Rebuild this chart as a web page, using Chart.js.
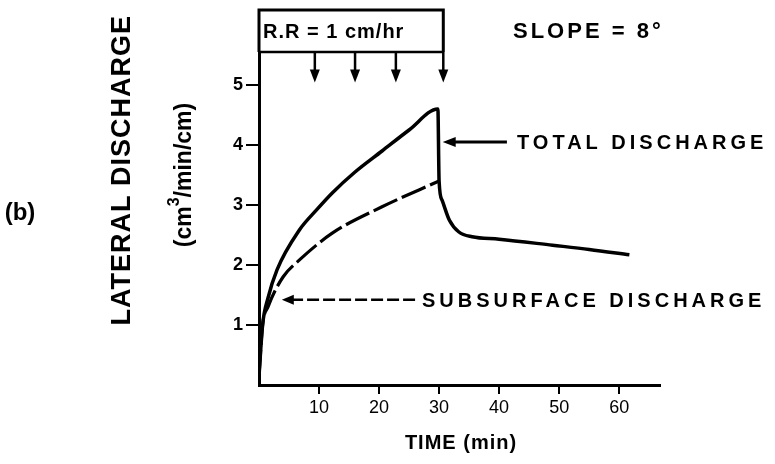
<!DOCTYPE html>
<html>
<head>
<meta charset="utf-8">
<script src="https://cdn.jsdelivr.net/npm/chart.js@4.4.1/dist/chart.umd.min.js"></script>
<style>
  html, body { margin: 0; padding: 0; background: #fff; }
  #wrap { width: 775px; height: 464px; position: relative; }
</style>
</head>
<body>
<div id="wrap"><canvas id="dischargeChart"></canvas></div>
<script>
// ===== data =====
const totalTime      = [0, 0.6, 1.5, 3, 6.7, 9.7, 12.2, 16, 20.5, 25, 29.8, 30.0, 30.5, 31.7, 33.3, 35.5, 40, 48.9, 55, 61.7];
const totalDischarge = [0.15, 1.0, 1.45, 1.92, 2.58, 2.93, 3.2, 3.55, 3.9, 4.25, 4.6, 3.4, 3.08, 2.75, 2.55, 2.47, 2.43, 2.33, 2.26, 2.17];

const subTime        = [0, 0.6, 1.5, 4, 6.7, 12.2, 20.5, 30.0];
const subDischarge   = [0.15, 1.0, 1.3, 1.8, 2.08, 2.53, 2.97, 3.4];

const xTicks = [10, 20, 30, 40, 50, 60];
const yTicks = [1, 2, 3, 4, 5];

// rainfall marks (minutes) and rain box extent
const rainArrowTimes = [9.3, 16, 22.8, 30.7];
const rainEnd = 30.7;

const FONT = "'Liberation Sans', Arial, sans-serif";

function toPoints(xs, ys) {
    return xs.map((x, i) => ({ x: x, y: ys[i] }));
}

function arrowHead(ctx, x, y, dir, len, half) {
    // dir: 'left' or 'down'
    ctx.beginPath();
    if (dir === 'left') {
        ctx.moveTo(x, y);
        ctx.lineTo(x + len, y - half);
        ctx.lineTo(x + len, y + half);
    } else {
        ctx.moveTo(x, y);
        ctx.lineTo(x - half, y - len);
        ctx.lineTo(x + half, y - len);
    }
    ctx.closePath();
    ctx.fill();
}

function label(ctx, str, x, y, font, align, spacing) {
    ctx.save();
    ctx.font = font;
    ctx.textAlign = align || 'left';
    ctx.textBaseline = 'middle';
    if (spacing) ctx.letterSpacing = spacing;
    ctx.fillText(str, x, y);
    ctx.restore();
}

// annotations: rain box, arrows, texts
const annotations = {
    id: 'annotations',
    afterDraw(chart) {
        const ctx = chart.ctx;
        const xs = chart.scales.x, ys = chart.scales.y;
        const px = v => xs.getPixelForValue(v);
        const py = v => ys.getPixelForValue(v);

        ctx.save();
        ctx.strokeStyle = '#000';
        ctx.fillStyle = '#000';
        ctx.lineCap = 'butt';

        // rain box above the plot
        ctx.lineWidth = 3;
        ctx.beginPath();
        ctx.moveTo(px(0), py(5.55));
        ctx.lineTo(px(0), py(6.25));
        ctx.lineTo(px(rainEnd), py(6.25));
        ctx.lineTo(px(rainEnd), py(5.55));
        ctx.stroke();
        ctx.lineWidth = 2.5;
        ctx.beginPath();
        ctx.moveTo(px(0), py(5.55));
        ctx.lineTo(px(rainEnd), py(5.55));
        ctx.stroke();

        // rainfall arrows
        rainArrowTimes.forEach(t => {
            ctx.lineWidth = 2.5;
            ctx.beginPath();
            ctx.moveTo(px(t), py(5.55));
            ctx.lineTo(px(t), py(5.2));
            ctx.stroke();
            arrowHead(ctx, px(t), py(5.04), 'down', 13, 5);
        });

        // arrow to total discharge
        ctx.lineWidth = 3;
        ctx.beginPath();
        ctx.moveTo(px(41.3), py(4.05));
        ctx.lineTo(px(32), py(4.05));
        ctx.stroke();
        arrowHead(ctx, px(30.6), py(4.05), 'left', 13, 5);

        // dashed arrow to subsurface discharge
        ctx.lineWidth = 2.5;
        ctx.setLineDash([12, 4]);
        ctx.beginPath();
        ctx.moveTo(px(26), py(1.42));
        ctx.lineTo(px(5.5), py(1.42));
        ctx.stroke();
        ctx.setLineDash([]);
        arrowHead(ctx, px(3.8), py(1.42), 'left', 12, 5);

        // texts
        label(ctx, 'R.R = 1 cm/hr', 263, 32, 'bold 20px ' + FONT, 'left', '1px');
        label(ctx, 'SLOPE = 8°', 513, 32, 'bold 22px ' + FONT, 'left', '3px');
        label(ctx, 'TOTAL DISCHARGE', 517, 143, 'bold 20px ' + FONT, 'left', '4px');
        label(ctx, 'SUBSURFACE DISCHARGE', 422, 301, 'bold 20px ' + FONT, 'left', '4px');
        label(ctx, 'TIME (min)', 461, 443, 'bold 20px ' + FONT, 'center', '1px');
        label(ctx, '(b)', 20, 213, 'bold 24px ' + FONT, 'center');

        // rotated y title
        ctx.save();
        ctx.translate(123, 15);
        ctx.rotate(-Math.PI / 2);
        ctx.font = 'bold 27px ' + FONT;
        ctx.textAlign = 'right';
        ctx.textBaseline = 'middle';
        ctx.letterSpacing = '1px';
        ctx.fillText('LATERAL DISCHARGE', 0, 0);
        ctx.restore();

        // units with superscript
        ctx.save();
        ctx.translate(185, 175);
        ctx.rotate(-Math.PI / 2);
        ctx.textBaseline = 'middle';
        ctx.textAlign = 'left';
        const main = 'bold 23px ' + FONT, sup = 'bold 16px ' + FONT;
        ctx.font = main;
        const a = '(cm', b = '/min/cm)';
        const wa = ctx.measureText(a).width, wb = ctx.measureText(b).width;
        ctx.font = sup;
        const ws = ctx.measureText('3').width;
        let x0 = -(wa + ws + wb) / 2;
        ctx.font = main;
        ctx.fillText(a, x0, 0);
        ctx.font = sup;
        ctx.fillText('3', x0 + wa, -10);
        ctx.font = main;
        ctx.fillText(b, x0 + wa + ws, 0);
        ctx.restore();

        ctx.restore();
    }
};

const ctx = document.getElementById('dischargeChart').getContext('2d');
new Chart(ctx, {
    type: 'line',
    data: {
        datasets: [{
            label: 'Total discharge',
            data: toPoints(totalTime, totalDischarge),
            borderColor: '#000',
            borderWidth: 3.5,
            pointRadius: 0,
            cubicInterpolationMode: 'monotone',
            fill: false
        }, {
            label: 'Subsurface discharge',
            data: toPoints(subTime, subDischarge),
            borderColor: '#000',
            borderWidth: 3.2,
            borderDash: [26, 5],
            pointRadius: 0,
            cubicInterpolationMode: 'monotone',
            fill: false
        }]
    },
    options: {
        responsive: true,
        maintainAspectRatio: false,
        animation: false,
        layout: { padding: { top: 52, right: 115, left: 0, bottom: 0 } },
        plugins: {
            legend: { display: false },
            tooltip: { enabled: false }
        },
        scales: {
            x: {
                type: 'linear',
                min: 0,
                max: 66.8,
                afterBuildTicks: s => { s.ticks = xTicks.map(v => ({ value: v })); },
                afterFit: s => { s.height = 79; },
                ticks: { color: '#000', font: { family: FONT, size: 18 }, padding: 3, maxRotation: 0 },
                grid: { drawOnChartArea: false, color: '#000', lineWidth: 2, tickLength: 9 },
                border: { color: '#000', width: 3 }
            },
            y: {
                min: 0,
                max: 5.55,
                afterBuildTicks: s => { s.ticks = yTicks.map(v => ({ value: v })); },
                afterFit: s => { s.width = 259; },
                ticks: { color: '#000', font: { family: FONT, size: 18, weight: 'bold' }, padding: 3 },
                grid: { drawOnChartArea: false, color: '#000', lineWidth: 2, tickLength: 13 },
                border: { color: '#000', width: 3 }
            }
        }
    },
    plugins: [annotations]
});
</script>
</body>
</html>
